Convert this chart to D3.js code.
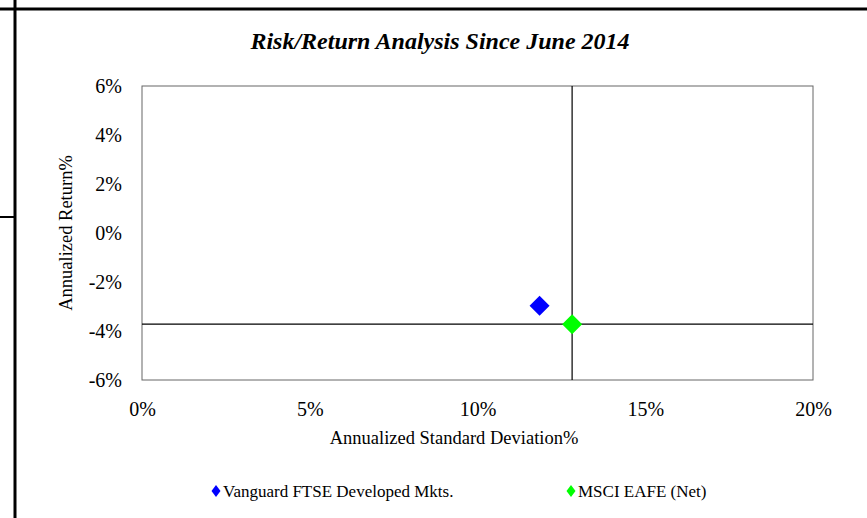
<!DOCTYPE html>
<html>
<head>
<meta charset="utf-8">
<script src="https://cdn.jsdelivr.net/npm/d3@7"></script>
<style>
  body { margin: 0; background: #fff; }
  svg { display: block; font-family: "Liberation Serif", "Times New Roman", serif; }
</style>
</head>
<body>
<svg id="chart"></svg>
<script>
const width = 867;
const height = 518;

// --- Data ---
const seriesNames = ["Vanguard FTSE Developed Mkts.", "MSCI EAFE (Net)"];
const seriesColors = ["#0000ff", "#00ff00"];
const stdDev = [11.85, 12.82];
const returns = [-2.97, -3.72];
const xTicks = [0, 5, 10, 15, 20];
const yTicks = [-6, -4, -2, 0, 2, 4, 6];
// benchmark crosshair (MSCI EAFE)
const benchX = 12.82;
const benchY = -3.72;

const svg = d3.select("#chart")
  .attr("width", width)
  .attr("height", height);

// --- Page frame lines ---
svg.append("line").attr("x1", 0).attr("x2", width).attr("y1", 9).attr("y2", 9)
  .attr("stroke", "#000").attr("stroke-width", 3);
svg.append("line").attr("x1", 15).attr("x2", 15).attr("y1", 0).attr("y2", height)
  .attr("stroke", "#000").attr("stroke-width", 3);
svg.append("line").attr("x1", 0).attr("x2", 15).attr("y1", 217).attr("y2", 217)
  .attr("stroke", "#000").attr("stroke-width", 2);

// --- Plot area ---
const plot = {left: 142, right: 813, top: 86, bottom: 380};

const x = d3.scaleLinear().domain([0, 20]).range([plot.left, plot.right]);
const y = d3.scaleLinear().domain([-6, 6]).range([plot.bottom, plot.top]);

// Title
svg.append("text")
  .attr("x", 440)
  .attr("y", 49)
  .attr("text-anchor", "middle")
  .attr("font-size", 24)
  .attr("font-weight", "bold")
  .attr("font-style", "italic")
  .text("Risk/Return Analysis Since June 2014");

// Plot border
svg.append("rect")
  .attr("x", plot.left)
  .attr("y", plot.top)
  .attr("width", plot.right - plot.left)
  .attr("height", plot.bottom - plot.top)
  .attr("fill", "none")
  .attr("stroke", "#666")
  .attr("stroke-width", 1);

// Axes (labels only)
const xAxis = svg.append("g")
  .attr("transform", `translate(0,${plot.bottom})`)
  .call(d3.axisBottom(x).tickValues(xTicks).tickSize(0).tickPadding(22).tickFormat(d => d + "%"));
xAxis.select(".domain").remove();
xAxis.selectAll("text")
  .attr("font-family", "Liberation Serif, Times New Roman, serif")
  .attr("font-size", 20)
  .attr("fill", "#000");

const yAxis = svg.append("g")
  .attr("transform", `translate(${plot.left},0)`)
  .call(d3.axisLeft(y).tickValues(yTicks).tickSize(0).tickPadding(20).tickFormat(d => d + "%"));
yAxis.select(".domain").remove();
yAxis.selectAll("text")
  .attr("font-family", "Liberation Serif, Times New Roman, serif")
  .attr("font-size", 20)
  .attr("fill", "#000");

// Axis titles
svg.append("text")
  .attr("x", 454)
  .attr("y", 444)
  .attr("text-anchor", "middle")
  .attr("font-size", 18.5)
  .text("Annualized Standard Deviation%");

svg.append("text")
  .attr("transform", `translate(72,${(plot.top + plot.bottom) / 2}) rotate(-90)`)
  .attr("text-anchor", "middle")
  .attr("font-size", 18.5)
  .text("Annualized Return%");

// Crosshair at benchmark
svg.append("line")
  .attr("x1", x(benchX)).attr("x2", x(benchX))
  .attr("y1", plot.top).attr("y2", plot.bottom)
  .attr("stroke", "#000").attr("stroke-width", 1.2);
svg.append("line")
  .attr("x1", plot.left).attr("x2", plot.right)
  .attr("y1", y(benchY)).attr("y2", y(benchY))
  .attr("stroke", "#000").attr("stroke-width", 1.2);

// Points
const diamond = d3.symbol().type(d3.symbolSquare).size(200);
const points = seriesNames.map((name, i) => ({name, sd: stdDev[i], ret: returns[i], color: seriesColors[i]}));

svg.append("g").selectAll("path")
  .data(points)
  .join("path")
  .attr("d", diamond)
  .attr("transform", d => `translate(${x(d.sd)},${y(d.ret)}) rotate(45)`)
  .attr("fill", d => d.color);

// Legend
const legendX = [216, 571];
const legend = svg.append("g").selectAll("g")
  .data(points)
  .join("g")
  .attr("transform", (d, i) => `translate(${legendX[i]},491)`);
legend.append("path")
  .attr("d", "M0,-6 L4.5,0 L0,6 L-4.5,0 Z")
  .attr("fill", d => d.color);
legend.append("text")
  .attr("x", 7)
  .attr("y", 5.5)
  .attr("font-size", 17)
  .text(d => d.name);
</script>
</body>
</html>
